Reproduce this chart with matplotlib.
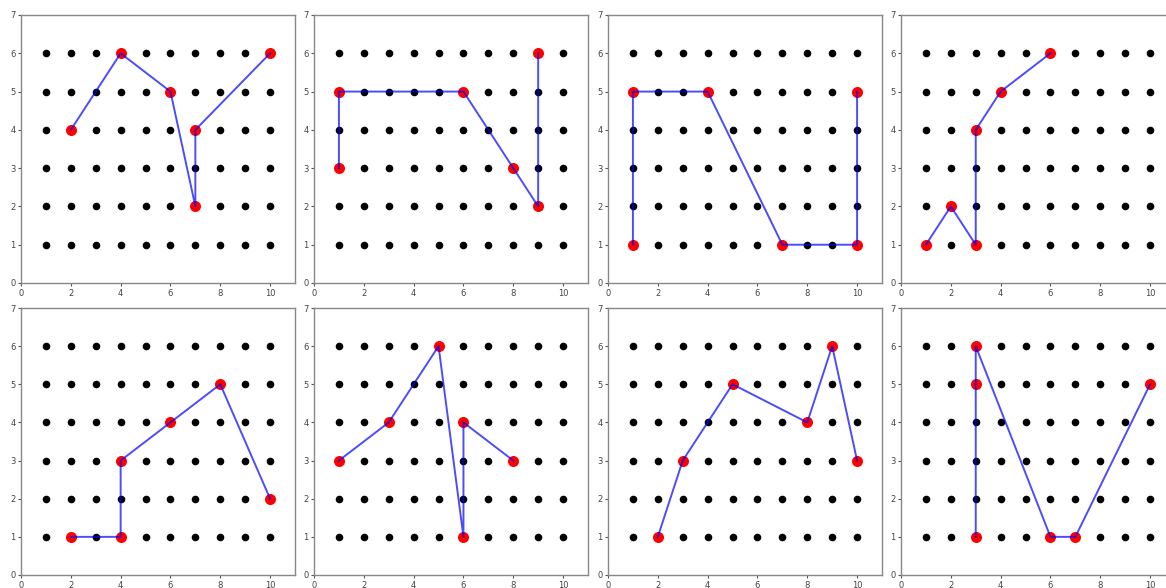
import numpy as np
import matplotlib
matplotlib.use('Agg')
import matplotlib.pyplot as plt

# lattice of candidate points
grid_x = [1, 2, 3, 4, 5, 6, 7, 8, 9, 10]
grid_y = [1, 2, 3, 4, 5, 6]

# chosen points for each panel, joined in order
path1_x = [2, 4, 6, 7, 7, 10]
path1_y = [4, 6, 5, 2, 4, 6]
path2_x = [1, 1, 6, 8, 9, 9]
path2_y = [3, 5, 5, 3, 2, 6]
path3_x = [1, 1, 4, 7, 10, 10]
path3_y = [1, 5, 5, 1, 1, 5]
path4_x = [1, 2, 3, 3, 4, 6]
path4_y = [1, 2, 1, 4, 5, 6]
path5_x = [2, 4, 4, 6, 8, 10]
path5_y = [1, 1, 3, 4, 5, 2]
path6_x = [1, 3, 5, 6, 6, 8]
path6_y = [3, 4, 6, 1, 4, 3]
path7_x = [2, 3, 5, 8, 9, 10]
path7_y = [1, 3, 5, 4, 6, 3]
path8_x = [3, 3, 3, 6, 7, 10]
path8_y = [1, 5, 6, 1, 1, 5]

xticks = [0, 2, 4, 6, 8, 10]
yticks = [0, 1, 2, 3, 4, 5, 6, 7]


def drawPanel(ax, px, py):
    gx, gy = np.meshgrid(grid_x, grid_y)
    ax.scatter(gx.ravel(), gy.ravel(), s=20, c='black', zorder=2)
    ax.scatter(px, py, s=48, c='red', zorder=3)
    ax.plot(px, py, color='blue', lw=1.4, alpha=0.7, zorder=4)
    ax.set_xlim(0, 11)
    ax.set_ylim(0, 7)
    ax.set_xticks(xticks)
    ax.set_yticks(yticks)
    ax.tick_params(labelsize=6, length=2, width=0.8, pad=2,
                   colors='#555555', labelcolor='#444444')
    for s in ax.spines.values():
        s.set_color('#888888')
        s.set_linewidth(1.0)


def main():
    W, H = 1166, 588
    fig = plt.figure(figsize=(W / 100, H / 100), dpi=100)
    paths = [(path1_x, path1_y), (path2_x, path2_y), (path3_x, path3_y), (path4_x, path4_y),
             (path5_x, path5_y), (path6_x, path6_y), (path7_x, path7_y), (path8_x, path8_y)]
    lefts = [21, 314, 608, 901]
    rows = [(15, 283), (308, 575)]
    for i, (px, py) in enumerate(paths):
        top, bot = rows[i // 4]
        left = lefts[i % 4]
        ax = fig.add_axes([left / W, (H - bot) / H, 274 / W, (bot - top) / H])
        drawPanel(ax, px, py)
    fig.savefig('out.png', dpi=100, facecolor='white')


if __name__ == '__main__':
    main()
